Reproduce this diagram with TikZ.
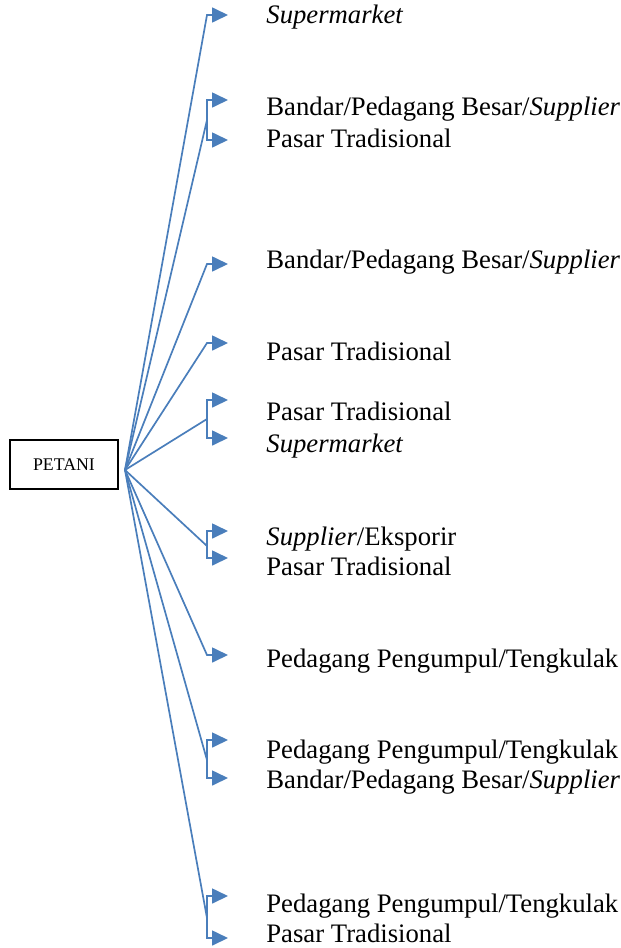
\documentclass[tikz,border=0pt]{standalone}
\usepackage{fontspec}
\setmainfont{Liberation Serif}
\usetikzlibrary{arrows.meta}
\definecolor{linkblue}{RGB}{74,126,187}

\begin{document}
\begin{tikzpicture}[x=0.5pt,y=-0.5pt,
        link/.style={draw=linkblue, line width=0.85pt},
        arr/.style={link, -{Triangle[length=8pt,width=7.5pt]}},
        outlet/.style={anchor=base west, inner sep=0pt, font=\fontsize{13.35}{16}\selectfont},
        farmbox/.style={draw, line width=0.6pt, minimum width=54pt, minimum height=24.5pt, inner sep=0pt, font=\fontsize{8.9}{10}\selectfont}]
        \useasboundingbox (0,0) rectangle (621,948);
        \node [farmbox] (petani) at (64,464.5) {PETANI};
        \coordinate (hub) at (125,470);
        \coordinate (c1) at (207,15);
        \coordinate (a1) at (228,15);
        \draw [arr] (hub) -- (c1) -- (a1);
        \node [outlet] (t1) at (266,23) {\textit{Supermarket}};
        \coordinate (b2) at (207,120);
        \coordinate (a2) at (228,100);
        \coordinate (a3) at (228,140);
        \draw [link] (hub) -- (b2);
        \draw [arr] (b2) |- (a2);
        \draw [arr] (b2) |- (a3);
        \node [outlet] (t2) at (266,115) {Bandar/Pedagang Besar/\textit{Supplier}};
        \node [outlet] (t3) at (266,147) {Pasar Tradisional};
        \coordinate (c4) at (207,264);
        \coordinate (a4) at (228,264);
        \draw [arr] (hub) -- (c4) -- (a4);
        \node [outlet] (t4) at (266,268) {Bandar/Pedagang Besar/\textit{Supplier}};
        \coordinate (c5) at (207,343);
        \coordinate (a5) at (228,343);
        \draw [arr] (hub) -- (c5) -- (a5);
        \node [outlet] (t5) at (266,360) {Pasar Tradisional};
        \coordinate (b6) at (207,419);
        \coordinate (a6) at (228,400);
        \coordinate (a7) at (228,438);
        \draw [link] (hub) -- (b6);
        \draw [arr] (b6) |- (a6);
        \draw [arr] (b6) |- (a7);
        \node [outlet] (t6) at (266,420) {Pasar Tradisional};
        \node [outlet] (t7) at (266,452) {\textit{Supermarket}};
        \coordinate (b8) at (207,546);
        \coordinate (a8) at (228,531);
        \coordinate (a9) at (228,558);
        \draw [link] (hub) -- (b8);
        \draw [arr] (b8) |- (a8);
        \draw [arr] (b8) |- (a9);
        \node [outlet] (t8) at (266,545) {\textit{Supplier}/Eksporir};
        \node [outlet] (t9) at (266,575) {Pasar Tradisional};
        \coordinate (c10) at (207,655);
        \coordinate (a10) at (228,655);
        \draw [arr] (hub) -- (c10) -- (a10);
        \node [outlet] (t10) at (266,667) {Pedagang Pengumpul/Tengkulak};
        \coordinate (b11) at (207,760);
        \coordinate (a11) at (228,740);
        \coordinate (a12) at (228,778);
        \draw [link] (hub) -- (b11);
        \draw [arr] (b11) |- (a11);
        \draw [arr] (b11) |- (a12);
        \node [outlet] (t11) at (266,758) {Pedagang Pengumpul/Tengkulak};
        \node [outlet] (t12) at (266,788) {Bandar/Pedagang Besar/\textit{Supplier}};
        \coordinate (b13) at (207,918);
        \coordinate (a13) at (228,896);
        \coordinate (a14) at (228,938);
        \draw [link] (hub) -- (b13);
        \draw [arr] (b13) |- (a13);
        \draw [arr] (b13) |- (a14);
        \node [outlet] (t13) at (266,912) {Pedagang Pengumpul/Tengkulak};
        \node [outlet] (t14) at (266,942) {Pasar Tradisional};
    \end{tikzpicture}
\end{document}
